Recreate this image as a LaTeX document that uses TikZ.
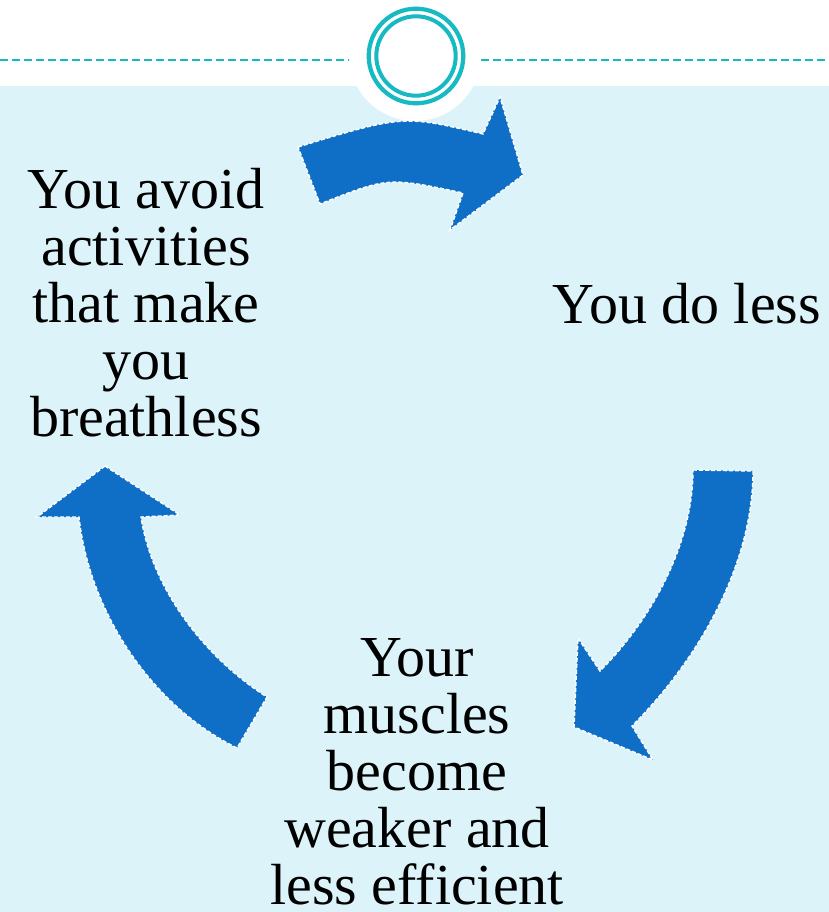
\documentclass[tikz,border=0pt]{standalone}
\usepackage{fontspec}
\setmainfont{Liberation Serif}
\definecolor{panelblue}{HTML}{DCF4F9}
\definecolor{ringteal}{HTML}{17B9C2}
\definecolor{arrowblue}{HTML}{0F6EC6}
\tikzset{
  bigarrow/.style={fill=arrowblue,draw=white,line width=1.4pt,dash pattern=on 4pt off 2pt},
  cycletext/.style={align=center,inner sep=0pt,anchor=north,font=\fontsize{58}{57}\selectfont},
}

\begin{document}
\begin{tikzpicture}[x=1pt,y=-1pt]
\useasboundingbox (0,0) rectangle (829,912);
\fill[white] (0,0) rectangle (829,912);
\fill[panelblue] (0,86) rectangle (829,912);
\coordinate (L1) at (0,60);
\coordinate (L2) at (350,60);
\coordinate (R1) at (481,60);
\coordinate (R2) at (829,60);
\coordinate (C) at (416,56);
\draw[ringteal,line width=2.5pt,dash pattern=on 8pt off 4pt] (L1)--(L2) (R1)--(R2);
\fill[white] (415,55) circle [radius=66];
\draw[ringteal,line width=4.2pt] (C) circle [radius=47.3];
\draw[ringteal,line width=4pt] (C) circle [radius=39.7];
\draw[bigarrow] (298,147) .. controls (403,115) .. (483,134) -- (500,97) -- (523,175)
  -- (450,230) -- (463,193) .. controls (388,177) .. (320,204) -- cycle;
\draw[bigarrow] (693,470) -- (753,471) .. controls (753,565) and (698,660) .. (632,726) -- (653,760)
  -- (574,727) -- (578,638) -- (600,671) .. controls (652,619) and (693,544) .. (693,470) -- cycle;
\draw[bigarrow] (105,466) -- (180,515) -- (141,517) .. controls (152,589) and (205,658) .. (267,697)
  -- (237,748) .. controls (150,705) and (89,610) .. (79,517) -- (37,517) -- cycle;
\node[cycletext] (avoid) at (146,168) {You avoid\\activities\\that make\\you\\breathless};
\node[cycletext] (doless) at (687,283) {You do less};
\node[cycletext] (weaker) at (417,638) {Your\\muscles\\become\\weaker and\\less efficient};
\end{tikzpicture}
\end{document}
